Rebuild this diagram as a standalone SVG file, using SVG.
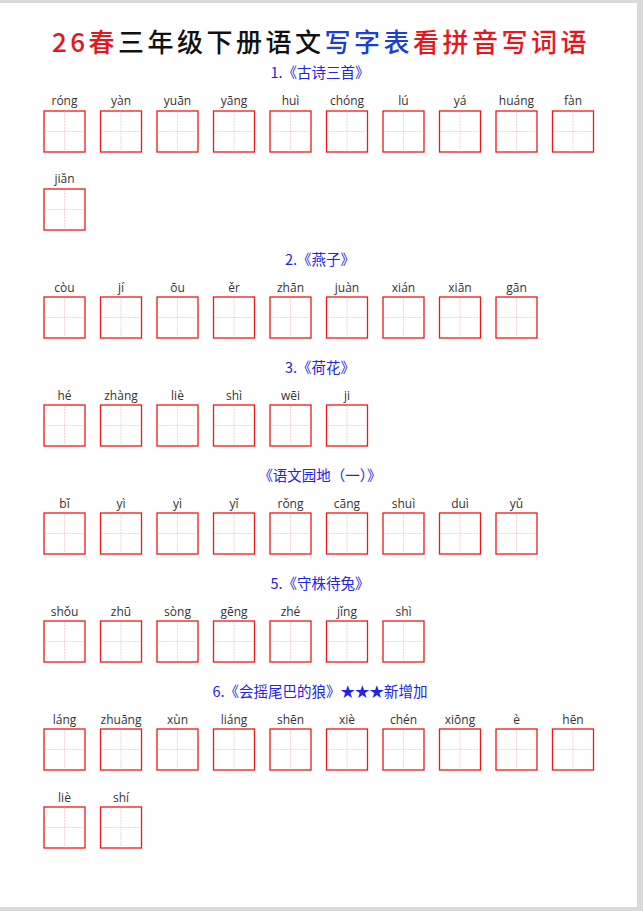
<svg xmlns="http://www.w3.org/2000/svg" xmlns:xlink="http://www.w3.org/1999/xlink" width="643" height="911" viewBox="0 0 643 911">
<style>
.py{font-family:"Open Sans","Noto Sans",sans-serif;font-size:12px;fill:#333;text-anchor:middle}
.sec{font-family:"Noto Sans CJK SC",sans-serif;font-size:14.5px;fill:#2323e6;text-anchor:middle}
.bx{fill:#fff;stroke:#f01818;stroke-width:1.3}
.gl{stroke:#f6b0b0;stroke-width:0.6;stroke-dasharray:2 1}
</style>
<defs>
<g id="box"><rect class="bx" x="0" y="0" width="41" height="41"/><line class="gl" x1="20.5" y1="0.7" x2="20.5" y2="40.3"/><line class="gl" x1="0.7" y1="20.5" x2="40.3" y2="20.5"/></g>
</defs>
<rect width="643" height="911" fill="#d9dadc"/>
<rect x="0" y="3" width="637" height="904" fill="#fff"/>
<g id="title"><text x="321" y="52" text-anchor="middle" font-family="Noto Sans CJK SC,sans-serif" font-size="26" font-weight="500" letter-spacing="3.5"><tspan fill="#e8161b">26春</tspan><tspan fill="#111">三年级下册语文</tspan><tspan fill="#1a3fd6">写字表</tspan><tspan fill="#e8161b">看拼音写词语</tspan></text></g>
<g id="s1"><text class="sec" x="320" y="78">1.《古诗三首》</text>
<g class="py"><text x="64.5" y="105">róng</text><text x="121" y="105">yàn</text><text x="177.5" y="105">yuān</text><text x="234" y="105">yāng</text><text x="290.5" y="105">huì</text><text x="347" y="105">chóng</text><text x="403.5" y="105">lú</text><text x="460" y="105">yá</text><text x="516.5" y="105">huáng</text><text x="573" y="105">fàn</text><text x="64.5" y="183">jiǎn</text></g>
<use href="#box" x="44" y="111"/><use href="#box" x="100.5" y="111"/><use href="#box" x="157" y="111"/><use href="#box" x="213.5" y="111"/><use href="#box" x="270" y="111"/><use href="#box" x="326.5" y="111"/><use href="#box" x="383" y="111"/><use href="#box" x="439.5" y="111"/><use href="#box" x="496" y="111"/><use href="#box" x="552.5" y="111"/><use href="#box" x="44" y="189"/></g>
<g id="s2"><text class="sec" x="320" y="265">2.《燕子》</text>
<g class="py"><text x="64.5" y="292">còu</text><text x="121" y="292">jí</text><text x="177.5" y="292">ōu</text><text x="234" y="292">ěr</text><text x="290.5" y="292">zhān</text><text x="347" y="292">juàn</text><text x="403.5" y="292">xián</text><text x="460" y="292">xiān</text><text x="516.5" y="292">gān</text></g>
<use href="#box" x="44" y="297"/><use href="#box" x="100.5" y="297"/><use href="#box" x="157" y="297"/><use href="#box" x="213.5" y="297"/><use href="#box" x="270" y="297"/><use href="#box" x="326.5" y="297"/><use href="#box" x="383" y="297"/><use href="#box" x="439.5" y="297"/><use href="#box" x="496" y="297"/></g>
<g id="s3"><text class="sec" x="320" y="373">3.《荷花》</text>
<g class="py"><text x="64.5" y="400">hé</text><text x="121" y="400">zhàng</text><text x="177.5" y="400">liè</text><text x="234" y="400">shì</text><text x="290.5" y="400">wēi</text><text x="347" y="400">ji</text></g>
<use href="#box" x="44" y="405"/><use href="#box" x="100.5" y="405"/><use href="#box" x="157" y="405"/><use href="#box" x="213.5" y="405"/><use href="#box" x="270" y="405"/><use href="#box" x="326.5" y="405"/></g>
<g id="s4"><text class="sec" x="320" y="481">《语文园地（一）》</text>
<g class="py"><text x="64.5" y="508">bǐ</text><text x="121" y="508">yì</text><text x="177.5" y="508">yì</text><text x="234" y="508">yǐ</text><text x="290.5" y="508">rǒng</text><text x="347" y="508">cāng</text><text x="403.5" y="508">shuì</text><text x="460" y="508">duì</text><text x="516.5" y="508">yǔ</text></g>
<use href="#box" x="44" y="513"/><use href="#box" x="100.5" y="513"/><use href="#box" x="157" y="513"/><use href="#box" x="213.5" y="513"/><use href="#box" x="270" y="513"/><use href="#box" x="326.5" y="513"/><use href="#box" x="383" y="513"/><use href="#box" x="439.5" y="513"/><use href="#box" x="496" y="513"/></g>
<g id="s5"><text class="sec" x="320" y="589">5.《守株待兔》</text>
<g class="py"><text x="64.5" y="616">shǒu</text><text x="121" y="616">zhū</text><text x="177.5" y="616">sòng</text><text x="234" y="616">gēng</text><text x="290.5" y="616">zhé</text><text x="347" y="616">jǐng</text><text x="403.5" y="616">shì</text></g>
<use href="#box" x="44" y="621"/><use href="#box" x="100.5" y="621"/><use href="#box" x="157" y="621"/><use href="#box" x="213.5" y="621"/><use href="#box" x="270" y="621"/><use href="#box" x="326.5" y="621"/><use href="#box" x="383" y="621"/></g>
<g id="s6"><text class="sec" x="320" y="697">6.《会摇尾巴的狼》★★★新增加</text>
<g class="py"><text x="64.5" y="724">láng</text><text x="121" y="724">zhuāng</text><text x="177.5" y="724">xùn</text><text x="234" y="724">liáng</text><text x="290.5" y="724">shēn</text><text x="347" y="724">xiè</text><text x="403.5" y="724">chén</text><text x="460" y="724">xiōng</text><text x="516.5" y="724">è</text><text x="573" y="724">hēn</text><text x="64.5" y="802">liè</text><text x="121" y="802">shí</text></g>
<use href="#box" x="44" y="729"/><use href="#box" x="100.5" y="729"/><use href="#box" x="157" y="729"/><use href="#box" x="213.5" y="729"/><use href="#box" x="270" y="729"/><use href="#box" x="326.5" y="729"/><use href="#box" x="383" y="729"/><use href="#box" x="439.5" y="729"/><use href="#box" x="496" y="729"/><use href="#box" x="552.5" y="729"/><use href="#box" x="44" y="807"/><use href="#box" x="100.5" y="807"/></g>
</svg>
